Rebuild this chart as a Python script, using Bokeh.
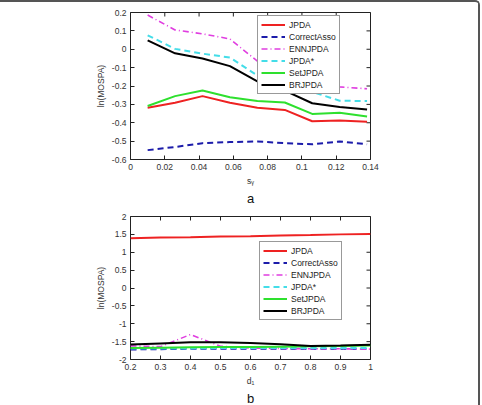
import math

from bokeh.plotting import figure
from bokeh.models import Legend, LegendItem, LinearAxis, FixedTicker, Title, Range1d
from bokeh.layouts import column
from bokeh.embed import file_html
from bokeh.resources import INLINE

# ---- series shared by both panels ----
series_names = ["JPDA", "CorrectAsso", "ENNJPDA", "JPDA*", "SetJPDA", "BRJPDA"]

# ---- panel a: ln(MOSPA) versus s_gamma ----
a_x = [0.010, 0.026, 0.042, 0.058, 0.074, 0.090, 0.106, 0.122, 0.138]
a_jpda = [-0.318, -0.291, -0.255, -0.291, -0.318, -0.330, -0.392, -0.388, -0.394]
a_correct = [-0.549, -0.532, -0.511, -0.505, -0.502, -0.511, -0.517, -0.502, -0.517]
a_ennjpda = [0.186, 0.105, 0.084, 0.056, -0.065, -0.130, -0.190, -0.205, -0.215]
a_jpdastar = [0.076, 0.002, -0.024, -0.045, -0.143, -0.190, -0.232, -0.280, -0.282]
a_setjpda = [-0.309, -0.255, -0.225, -0.261, -0.282, -0.290, -0.352, -0.345, -0.366]
a_brjpda = [0.048, -0.022, -0.050, -0.092, -0.175, -0.225, -0.294, -0.314, -0.328]
a_xticks = ["0", "0.02", "0.04", "0.06", "0.08", "0.1", "0.12", "0.14"]
a_yticks = ["-0.6", "-0.5", "-0.4", "-0.3", "-0.2", "-0.1", "0", "0.1", "0.2"]

# ---- panel b: ln(MOSPA) versus d_1 ----
b_x = [0.2, 0.3, 0.4, 0.5, 0.6, 0.7, 0.8, 0.9, 1.0]
b_jpda = [1.39, 1.41, 1.42, 1.44, 1.45, 1.47, 1.48, 1.50, 1.51]
b_correct = [-1.72, -1.71, -1.70, -1.70, -1.70, -1.70, -1.70, -1.70, -1.70]
b_ennjpda = [-1.62, -1.64, -1.30, -1.63, -1.68, -1.69, -1.70, -1.70, -1.71]
b_jpdastar = [-1.69, -1.69, -1.69, -1.68, -1.68, -1.68, -1.68, -1.68, -1.68]
b_setjpda = [-1.68, -1.67, -1.66, -1.65, -1.65, -1.64, -1.63, -1.62, -1.61]
b_brjpda = [-1.58, -1.55, -1.52, -1.52, -1.54, -1.57, -1.62, -1.61, -1.59]
b_xticks = ["0.2", "0.3", "0.4", "0.5", "0.6", "0.7", "0.8", "0.9", "1"]
b_yticks = ["-2", "-1.5", "-1", "-0.5", "0", "0.5", "1", "1.5", "2"]

# line styles: colour, dash, width
styles = [
    ("#ee2222", "solid", 2),
    ("#1c1caa", "6 4", 2),
    ("#e03ee0", "6 3 1 3", 1.6),
    ("#44dde8", "6 4", 2),
    ("#2ee02e", "solid", 2),
    ("#000000", "solid", 2),
]

FONT = "Liberation Sans"
TICK_SIZE = "8.5px"
TICK_COLOR = "#222222"


def style_axis(ax, ticks, labels):
    ax.ticker = FixedTicker(ticks=ticks)
    ax.major_label_overrides = {t: s for t, s in zip(ticks, labels)}
    ax.minor_tick_line_color = None
    ax.major_tick_in = 4
    ax.major_tick_out = 0
    ax.major_tick_line_color = TICK_COLOR
    ax.axis_line_color = None
    ax.major_label_text_font = FONT
    ax.major_label_text_font_size = TICK_SIZE
    ax.major_label_text_color = "#333333"
    ax.major_label_standoff = 4
    ax.axis_label_text_font = FONT
    ax.axis_label_text_font_size = TICK_SIZE
    ax.axis_label_text_font_style = "normal"
    ax.axis_label_text_color = "#333333"
    ax.axis_label_standoff = 3


def make_panel(xs, ys_list, xlabels, ylabels, xlabel, caption, legend_xy,
               height, top, bottom):
    xt = [float(s) for s in xlabels]
    yt = [float(s) for s in ylabels]
    p = figure(width=478, height=height, output_backend="svg", toolbar_location=None,
               x_range=Range1d(xt[0], xt[-1]), y_range=Range1d(yt[0], yt[-1]),
               x_axis_location=None, y_axis_location=None,
               min_border_left=130, min_border_right=108,
               min_border_top=top, min_border_bottom=bottom)
    p.xgrid.visible = False
    p.ygrid.visible = False
    p.outline_line_color = "#222222"
    p.outline_line_width = 1
    p.background_fill_color = "white"
    p.border_fill_color = "white"

    bx = LinearAxis(axis_label=xlabel)
    style_axis(bx, xt, xlabels)
    p.add_layout(bx, "below")
    ly = LinearAxis(axis_label="ln(MOSPA)")
    style_axis(ly, yt, ylabels)
    p.add_layout(ly, "left")

    # inward ticks on the top and right edges of the box (half of each dash
    # falls outside the frame and is clipped away)
    p.scatter(xt, [yt[-1]] * len(xt), marker="dash", angle=math.pi / 2,
              size=8, line_color=TICK_COLOR, line_width=1)
    p.scatter([xt[-1]] * len(yt), yt, marker="dash", size=8,
              line_color=TICK_COLOR, line_width=1)

    items = []
    for name, ys, (color, dash, w) in zip(series_names, ys_list, styles):
        r = p.line(xs, ys, line_color=color, line_dash=dash, line_width=w)
        items.append(LegendItem(label=name, renderers=[r]))

    legend = Legend(items=items, location=legend_xy)
    legend.border_line_color = "#333333"
    legend.border_line_width = 1
    legend.background_fill_alpha = 1
    legend.label_text_font = FONT
    legend.label_text_font_size = TICK_SIZE
    legend.label_text_color = "#222222"
    legend.glyph_width = 24
    legend.glyph_height = 11
    legend.label_height = 11
    legend.label_standoff = 4
    legend.spacing = 1
    legend.padding = 3
    legend.margin = 0
    p.add_layout(legend)

    cap = Title(text=caption, align="center", text_font=FONT,
                text_font_size="13px", text_font_style="normal",
                text_color="#111111", standoff=0)
    p.add_layout(cap, "below")
    return p


p1 = make_panel(a_x, [a_jpda, a_correct, a_ennjpda, a_jpdastar, a_setjpda, a_brjpda],
                a_xticks, a_yticks, "s\u1d67", "a", (127, 65), 203, 10, 42)
p2 = make_panel(b_x, [b_jpda, b_correct, b_ennjpda, b_jpdastar, b_setjpda, b_brjpda],
                b_xticks, b_yticks, "d\u2081", "b", (129, 39), 200, 11, 39)

page = column(p1, p2, styles={"border-top": "2px solid #555555",
                              "border-right": "2px solid #555555",
                              "border-top-right-radius": "5px"})

open("out.html", "w").write(file_html(page, INLINE))
